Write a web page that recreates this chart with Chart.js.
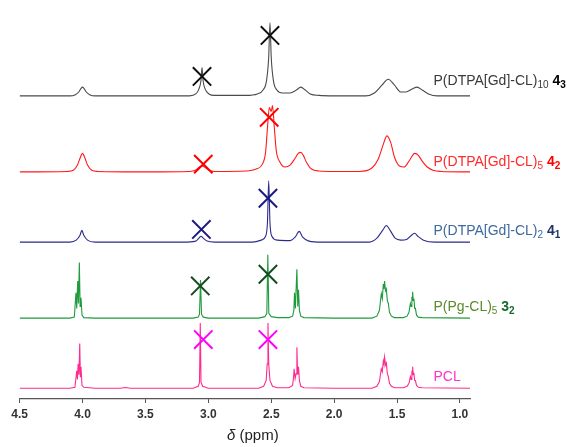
<!DOCTYPE html>
<html>
<head>
<meta charset="utf-8">
<script src="https://cdn.jsdelivr.net/npm/chart.js@4.4.0/dist/chart.umd.min.js"></script>
<style>
html,body{margin:0;padding:0;background:#fff;overflow:hidden;}
#wrap{position:relative;width:567px;height:447px;}
canvas{display:block;}
</style>
</head>
<body>
<div id="wrap"><canvas id="c" width="567" height="447" style="width:567px;height:447px"></canvas></div>
<script>
// ---- Data (ppm, intensity above each trace's own baseline) ----
const tickValues = [4.5, 4.0, 3.5, 3.0, 2.5, 2.0, 1.5, 1.0];
const axisTitle = [["δ","i"],[" (ppm)","n"]];

const spec43 = [ // P(DTPA[Gd]-CL)10 4_3 (black)
  [4.5,0],[4.1,0],[4.06,1],[4.03,4],[4.01,8],[4.0,9],[3.99,8],[3.97,4],[3.94,1],[3.9,0],
  [3.15,0],[3.1,2],[3.075,7],[3.058,16],[3.05,29],[3.042,16],[3.025,7],[2.995,2],[2.95,0.5],
  [2.7,0.5],[2.61,2],[2.565,6],[2.537,16],[2.52,40],[2.51,75],[2.5,40],[2.483,16],[2.455,6],[2.41,3],[2.35,3],[2.3,6],[2.265,9],[2.23,6],[2.19,2],[2.12,0.5],[2.0,0],
  [1.75,0],[1.68,3],[1.62,11],[1.57,17],[1.52,11],[1.47,4],[1.43,4],[1.38,7],[1.34,9],[1.30,6],[1.25,2],[1.18,0],[0.92,0]
];
const spec42 = [ // P(DTPA[Gd]-CL)5 4_2 (red)
  [4.5,0],[4.12,0.5],[4.07,2],[4.04,7],[4.02,14],[4.0,19],[3.98,14],[3.96,7],[3.93,2],[3.88,0.5],[3.5,0],
  [3.15,0.5],[3.1,2],[3.07,5],[3.05,6],[3.03,5],[3.0,2],[2.95,0.5],
  [2.7,1],[2.62,3],[2.57,8],[2.545,20],[2.53,45],[2.515,66],[2.5,62],[2.49,68],[2.475,45],[2.46,22],[2.43,10],[2.39,5],[2.35,7],[2.31,14],[2.285,19],[2.265,20],[2.245,17],[2.22,10],[2.18,3],[2.12,1],[2.0,0.5],
  [1.8,0.5],[1.7,4],[1.65,13],[1.61,28],[1.58,37],[1.55,30],[1.52,15],[1.48,6],[1.445,5],[1.4,12],[1.36,19],[1.33,17],[1.3,11],[1.26,5],[1.21,1.5],[1.15,0.5],[0.92,0]
];
const spec41 = [ // P(DTPA[Gd]-CL)2 4_1 (blue)
  [4.5,0],[4.1,0],[4.05,2],[4.02,7],[4.005,12],[3.99,7],[3.96,2],[3.9,0],
  [3.2,0],[3.1,1],[3.075,4],[3.058,6],[3.04,4],[3.01,1],[2.95,0],
  [2.65,0],[2.58,2],[2.545,6],[2.53,20],[2.52,63],[2.51,20],[2.495,6],[2.45,2],[2.35,1.5],[2.31,5],[2.277,11],[2.25,5],[2.2,1],[2.1,0],
  [1.72,0],[1.66,4],[1.615,12],[1.585,17],[1.555,12],[1.515,4],[1.47,2],[1.42,3],[1.385,7],[1.36,9],[1.335,6],[1.29,2],[1.2,0],[0.92,0]
];
const spec32 = [ // P(Pg-CL)5 3_2 (green)
  [4.5,0],[4.1,0],[4.065,1],[4.052,26],[4.046,10],[4.038,38],[4.032,15],[4.025,57],[4.019,12],[4.012,21],[4.004,3],[3.99,0.5],[3.9,0],
  [3.12,0],[3.08,1],[3.07,4],[3.062,39],[3.054,4],[3.04,1],[3.0,0],
  [2.6,0],[2.55,1.5],[2.535,5],[2.527,65],[2.519,5],[2.5,1.5],[2.45,0.5],
  [2.36,0.5],[2.33,2],[2.32,8],[2.315,26],[2.308,10],[2.296,50],[2.289,12],[2.283,29],[2.276,8],[2.265,2],[2.24,0.5],[2.0,0],
  [1.70,0],[1.66,2],[1.64,8],[1.625,25],[1.617,20],[1.609,35],[1.604,30],[1.599,38],[1.592,28],[1.585,30],[1.577,18],[1.569,15],[1.56,6],[1.545,2],[1.52,0.5],
  [1.45,0.5],[1.42,2],[1.405,6],[1.394,15],[1.388,12],[1.382,22],[1.379,18],[1.376,27],[1.371,18],[1.366,20],[1.36,10],[1.354,10],[1.345,3],[1.33,1],[1.3,0.5],[0.92,0]
];
const specPCL = [ // PCL (pink)
  [4.5,0],[4.1,0],[4.06,1],[4.046,18],[4.04,9],[4.035,25],[4.028,14],[4.022,46],[4.017,12],[4.012,22],[4.004,3],[3.99,1],[3.9,0],
  [3.7,0],[3.66,0.8],[3.62,0],
  [3.12,0],[3.08,2],[3.07,6],[3.064,67],[3.058,6],[3.045,2],[3.0,0],
  [2.6,0],[2.56,2],[2.54,8],[2.532,25],[2.526,67],[2.52,25],[2.51,8],[2.49,2],[2.45,0.5],
  [2.36,0.5],[2.33,3],[2.322,12],[2.318,20],[2.31,10],[2.302,15],[2.296,42],[2.29,14],[2.283,22],[2.276,8],[2.265,2],[2.24,0.5],[2.0,0],
  [1.70,0],[1.66,2],[1.64,7],[1.625,20],[1.617,17],[1.609,28],[1.604,25],[1.599,32],[1.592,24],[1.585,26],[1.577,15],[1.569,12],[1.56,5],[1.545,2],[1.52,0.5],
  [1.45,0.5],[1.42,2],[1.405,5],[1.394,12],[1.388,9],[1.382,18],[1.379,14],[1.376,22],[1.371,14],[1.366,16],[1.36,8],[1.354,8],[1.345,3],[1.33,1],[1.3,0.5],[0.92,0]
];

// X marks (ppm, intensity above own baseline)
const marks43 = [[3.05,20],[2.51,62]];
const marks42 = [[3.04,8],[2.516,56]];
const marks41 = [[3.055,13],[2.526,45]];
const marks32 = [[3.064,33],[2.526,45]];
const marksPCL = [[3.04,50],[2.526,50]];

// Trace labels (text segments)
const labels43 = [["P(DTPA[Gd]-CL)","n"],["10","s"],[" ","n"],["4","b"],["3","bs"]];
const labels42 = [["P(DTPA[Gd]-CL)","n"],["5","s"],[" ","n"],["4","b"],["2","bs"]];
const labels41 = [["P(DTPA[Gd]-CL)","n"],["2","s"],[" ","n"],["4","b"],["1","bs"]];
const labels32 = [["P(Pg-CL)","n"],["5","s"],[" ","n"],["3","b"],["2","bs"]];
const labelsPCL = [["PCL","n"]];

// ---- Layout / style (not data) ----
const FONT = '"Liberation Sans", Arial, sans-serif';
const traces = [
  {spec:spec43, marks:marks43, label:labels43, offset:311, lift:15, color:'#4a4a4a', markColor:'#111111', textColor:'#3a3a3a', boldColor:'#000000', smooth:true},
  {spec:spec42, marks:marks42, label:labels42, offset:233, lift:10, color:'#ff1a1a', markColor:'#ff0000', textColor:'#ff2a2a', boldColor:'#ff0000', smooth:true},
  {spec:spec41, marks:marks41, label:labels41, offset:161, lift:11, color:'#2b2b8c', markColor:'#1c1c80', textColor:'#3d6a9e', boldColor:'#1e3566', smooth:true},
  {spec:spec32, marks:marks32, label:labels32, offset:83, lift:11, color:'#1f9a3c', markColor:'#144d22', textColor:'#5a8a2a', boldColor:'#1a6a2e', smooth:false},
  {spec:specPCL, marks:marksPCL, label:labelsPCL, offset:11, lift:11, color:'#ff2a8f', markColor:'#ff00ff', textColor:'#ff33cc', boldColor:'#ff33cc', smooth:false}
];
const labelX = 1.21;

const datasets = [];
traces.forEach(t => {
  datasets.push({
    type:'line',
    data: t.spec.map(p => ({x:p[0], y:p[1] + t.offset})),
    borderColor: t.color, borderWidth: 1.1, pointRadius: 0,
    cubicInterpolationMode: t.smooth ? 'monotone' : 'default',
    tension: 0, fill:false, order: 2
  });
});
traces.forEach(t => {
  datasets.push({
    type:'scatter',
    data: t.marks.map(p => ({x:p[0], y:p[1] + t.offset})),
    pointStyle:'crossRot', pointRadius: 13, pointBorderWidth: 2,
    borderColor: t.markColor, backgroundColor: t.markColor, showLine:false, order: 1
  });
});

function drawRich(ctx, segs, x, y, colors, align){
  // measure
  const fontFor = st => {
    const bold = st.includes('b'), sub = st.includes('s'), it = st.includes('i');
    const size = sub ? 10 : (colors.size || 14);
    return (it ? 'italic ' : '') + (bold ? 'bold ' : '') + size + 'px ' + FONT;
  };
  let total = 0;
  segs.forEach(([txt, st]) => { ctx.font = fontFor(st); total += ctx.measureText(txt).width; });
  if (align === 'center') x -= total / 2;
  segs.forEach(([txt, st]) => {
    ctx.font = fontFor(st);
    ctx.fillStyle = st.includes('b') ? colors.bold : colors.text;
    ctx.fillText(txt, x, y + (st.includes('s') ? 4 : 0));
    x += ctx.measureText(txt).width;
  });
}

const labelPlugin = {
  id:'traceLabels',
  afterDatasetsDraw(chart){
    const ctx = chart.ctx, xs = chart.scales.x, ys = chart.scales.y;
    ctx.save();
    ctx.textBaseline = 'middle';
    ctx.textAlign = 'left';
    traces.forEach(t => {
      drawRich(ctx, t.label, xs.getPixelForValue(labelX), ys.getPixelForValue(t.offset + t.lift),
        {text:t.textColor, bold:t.boldColor}, 'left');
    });
    // x axis title with italic delta
    const cx = (chart.chartArea.left + chart.chartArea.right) / 2 + 8;
    drawRich(ctx, axisTitle, cx, xs.bottom - 11, {text:'#222222', bold:'#222222', size:15}, 'center');
    ctx.restore();
  }
};

new Chart(document.getElementById('c'), {
  data: { datasets },
  options: {
    responsive:false, maintainAspectRatio:false, animation:false, devicePixelRatio: 1,
    layout:{ padding:{ left:19.6, right:97, top:5, bottom:0 } },
    plugins:{ legend:{display:false}, tooltip:{enabled:false} },
    scales:{
      x:{
        type:'linear', reverse:true, min:0.92, max:4.5,
        afterBuildTicks(scale){ scale.ticks = tickValues.map(v => ({value:v})); },
        afterFit(scale){ scale.height = 48; },
        ticks:{ includeBounds:false, stepSize:0.5, padding:4, color:'#333333',
          font:{ size:12, weight:'bold', family:FONT },
          callback:(v) => Number(v).toFixed(1), maxRotation:0, autoSkip:false },
        grid:{ display:true, drawOnChartArea:false, drawTicks:true, tickLength:4, color:'#555555', lineWidth:1 },
        border:{ display:true, color:'#555555', width:1.2 },
        title:{ display:false }
      },
      y:{ display:false, min:0, max:394 }
    }
  },
  plugins:[labelPlugin]
});
</script>
</body>
</html>
